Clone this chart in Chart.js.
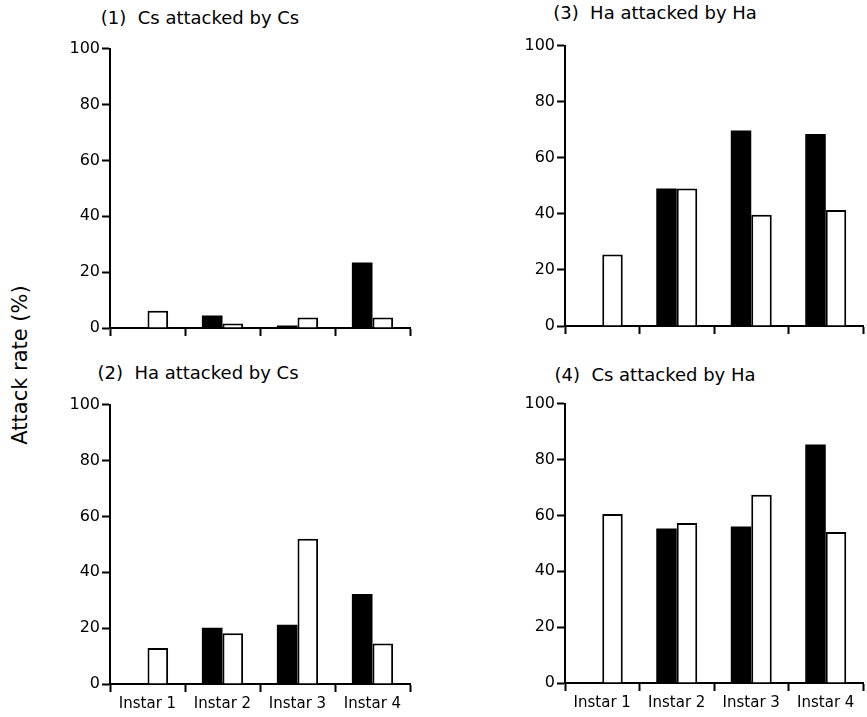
<!DOCTYPE html>
<html>
<head>
<meta charset="utf-8">
<script src="https://cdn.jsdelivr.net/npm/chart.js@4"></script>
<style>
  body { margin: 0; background: #fff; width: 867px; height: 717px; position: relative; overflow: hidden;
         font-family: "DejaVu Sans", sans-serif; color: #000; }
  canvas { position: absolute; }
  .title { position: absolute; font-size: 18px; white-space: pre; transform: translateX(-50%); }
  .ylab { position: absolute; left: 20px; top: 365px; font-size: 21px; white-space: nowrap;
          transform: translate(-50%, -50%) rotate(-90deg); }
</style>
</head>
<body>
<div class="title" style="left:200px; top:7px;">(1)  Cs attacked by Cs</div>
<div class="title" style="left:655px; top:2px;">(3)  Ha attacked by Ha</div>
<div class="title" style="left:198px; top:362px;">(2)  Ha attacked by Cs</div>
<div class="title" style="left:655px; top:364px;">(4)  Cs attacked by Ha</div>
<div class="ylab">Attack rate (%)</div>

<canvas id="c1" style="left:50px; top:37px;" width="370" height="311"></canvas>
<canvas id="c3" style="left:505px; top:34px;" width="362" height="312"></canvas>
<canvas id="c2" style="left:50px; top:393px;" width="370" height="326"></canvas>
<canvas id="c4" style="left:505px; top:392px;" width="362" height="326"></canvas>

<script>
// 齢期
const instars = ['Instar 1', 'Instar 2', 'Instar 3', 'Instar 4'];
const yTicks = [0, 20, 40, 60, 80, 100];

// (1) Cs attacked by Cs
const csByCsBlack = [0, 4.5, 0.9, 23.4];
const csByCsWhite = [6.2, 1.6, 3.8, 3.8];
// (2) Ha attacked by Cs
const haByCsBlack = [0, 20.1, 21.2, 32.2];
const haByCsWhite = [12.9, 18.2, 52, 14.5];
// (3) Ha attacked by Ha
const haByHaBlack = [0, 49, 69.7, 68.5];
const haByHaWhite = [25.5, 49, 39.7, 41.4];
// (4) Cs attacked by Ha
const csByHaBlack = [0, 55.3, 56, 85.4];
const csByHaWhite = [60.5, 57.3, 67.4, 54];

const FONT = '"DejaVu Sans", sans-serif';

function makeChart(id, black, white, showLabels, padRight) {
  const ctx = document.getElementById(id);
  new Chart(ctx, {
    type: 'bar',
    data: {
      labels: instars,
      datasets: [
        { data: black, backgroundColor: '#000', borderColor: '#000', borderWidth: 0 },
        { data: white, backgroundColor: '#fff', borderColor: '#000', borderWidth: 2 },
      ],
    },
    options: {
      responsive: false,
      animation: false,
      devicePixelRatio: 1,
      categoryPercentage: 0.55,
      barPercentage: 1,
      layout: { padding: { top: 10, right: padRight, left: 0, bottom: 0 } },
      plugins: { legend: { display: false }, tooltip: { enabled: false }, title: { display: false } },
      scales: {
        x: {
          afterFit: s => { s.height = showLabels ? 35 : 20; },
          border: { color: '#000', width: 2 },
          grid: { drawOnChartArea: false, drawTicks: true, tickLength: 8, tickWidth: 2, tickColor: '#000', offset: true },
          ticks: { display: showLabels, color: '#000', padding: 3, font: { family: FONT, size: 15 } },
        },
        y: {
          min: 0,
          max: 100,
          afterBuildTicks: s => { s.ticks = yTicks.map(v => ({ value: v })); },
          afterFit: s => { s.width = 60; },
          border: { color: '#000', width: 2 },
          grid: { drawOnChartArea: false, drawTicks: true, tickLength: 8, tickWidth: 2, tickColor: '#000' },
          ticks: { color: '#000', padding: 2, font: { family: FONT, size: 16 } },
        },
      },
    },
  });
}

makeChart('c1', csByCsBlack, csByCsWhite, false, 10);
makeChart('c3', haByHaBlack, haByHaWhite, false, 4);
makeChart('c2', haByCsBlack, haByCsWhite, true, 10);
makeChart('c4', csByHaBlack, csByHaWhite, true, 4);
</script>
</body>
</html>
